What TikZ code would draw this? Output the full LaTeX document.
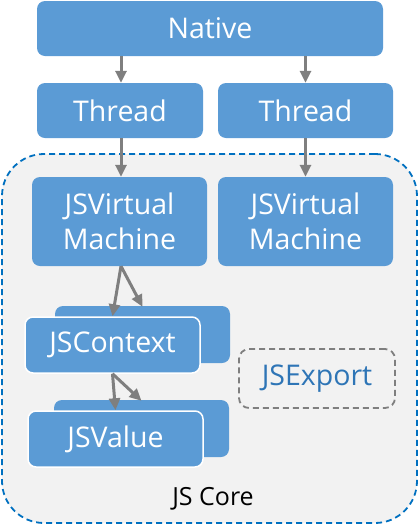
\documentclass[tikz,border=0pt]{standalone}
\usepackage{fontspec}
\setmainfont{Open Sans}
\usetikzlibrary{arrows.meta}
\definecolor{boxblue}{HTML}{5B9BD5}
\definecolor{arrgray}{HTML}{7F7F7F}
\definecolor{coreblue}{HTML}{0070C0}
\definecolor{corefill}{HTML}{F2F2F2}
\definecolor{exportblue}{HTML}{2E75B6}
\tikzset{
  bluebox/.style={fill=boxblue, draw=none, rounded corners=8pt, text=white, align=center,
     font=\fontsize{28.5}{35}\selectfont, inner sep=0pt},
  frontbox/.style={bluebox, draw=white, line width=1.5pt},
  conn/.style={draw=arrgray, line width=3pt, -{Triangle[length=12pt,width=11pt]}},
}
\begin{document}
\begin{tikzpicture}[x=1pt,y=-1pt]
\useasboundingbox (0,0) rectangle (418,531);
% JS Core container
\node[draw=coreblue, fill=corefill, dashed, dash pattern=on 6pt off 4pt, line width=1.8pt,
      rounded corners=42pt, minimum width=415pt, minimum height=369pt, inner sep=0pt]
      (core) at (209.5,338.5) {};
\node[font=\fontsize{25}{30}\selectfont, text=black] (corelabel) at (213,499) {JS Core};

\node[bluebox, minimum width=346pt, minimum height=55pt] (native) at (210,28.5) {Native};
\node[bluebox, minimum width=166pt, minimum height=55pt] (threadL) at (120,110.5) {Thread};
\node[bluebox, minimum width=175pt, minimum height=55pt] (threadR) at (305.5,110.5) {Thread};
\node[bluebox, minimum width=175pt, minimum height=89pt] (vmL) at (119.5,221.5) {JSVirtual\\Machine};
\node[bluebox, minimum width=175pt, minimum height=89pt] (vmR) at (305.5,221.5) {JSVirtual\\Machine};

\node[bluebox, minimum width=175pt, minimum height=57pt] (ctxback) at (142.5,334.5) {};
\node[frontbox, minimum width=175pt, minimum height=56pt] (ctx) at (112.5,345) {JSContext};
\node[bluebox, minimum width=175pt, minimum height=57pt] (valback) at (141.5,428.5) {};
\node[frontbox, minimum width=175pt, minimum height=56pt] (val) at (115.5,439) {JSValue};

\node[draw=arrgray, dashed, dash pattern=on 6pt off 4pt, line width=1.8pt, rounded corners=10pt,
      minimum width=156pt, minimum height=59pt, inner sep=0pt, text=exportblue,
      font=\fontsize{28.5}{35}\selectfont] (export) at (317,378.5) {JSExport};

\draw[conn] ([xshift=1pt]threadL.north |- native.south) -- ([xshift=1pt]threadL.north);
\draw[conn] (threadR.north |- native.south) -- (threadR.north);
\draw[conn] ([xshift=1pt]threadL.south) -- ([xshift=1pt]threadL.south |- vmL.north);
\draw[conn] (threadR.south) -- (vmR.north);
\draw[conn] ([xshift=1.5pt]vmL.south) -- ([xshift=0pt]ctx.north);
\draw[conn] ([xshift=1.5pt]vmL.south) -- ([yshift=-1pt]ctxback.north);
\draw[conn] (ctx.south) -- (val.north);
\draw[conn] (ctx.south) -- ([yshift=-1pt]valback.north);
\end{tikzpicture}
\end{document}
